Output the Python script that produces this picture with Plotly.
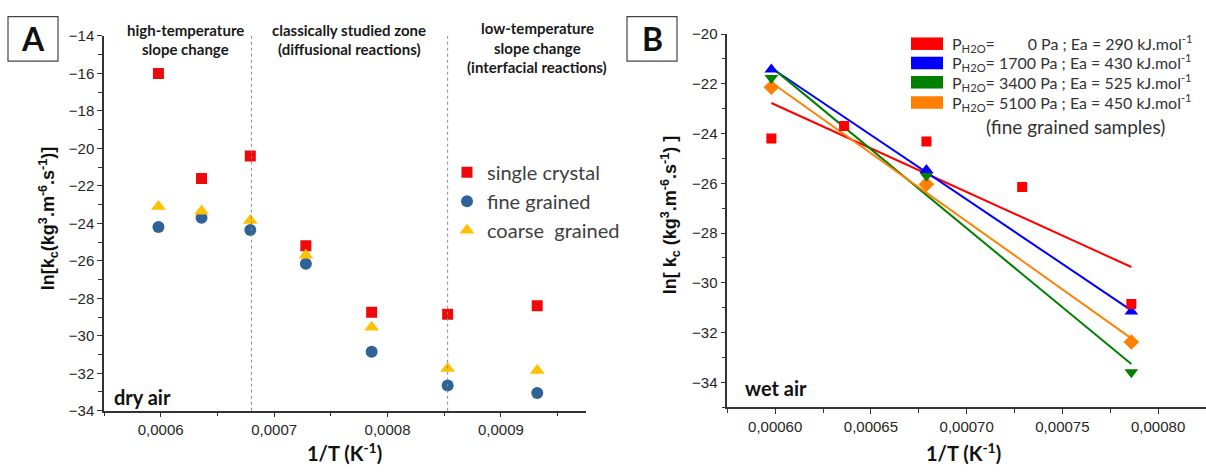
import numpy as np
import plotly.graph_objects as go

W, H = 1206, 473

# ---------------- Panel A : dry air ----------------
inv_T_dry = [0.000598, 0.000636, 0.000679, 0.000728, 0.000786, 0.000853, 0.000932]
ln_k_single = [-16.0, -21.6, -20.4, -25.2, -28.75, -28.85, -28.4]
ln_k_fine = [-24.2, -23.7, -24.35, -26.15, -30.85, -32.65, -33.05]
ln_k_coarse = [-23.1, -23.35, -23.85, -25.7, -29.55, -31.75, -31.85]
zone_limits = [0.00068, 0.000853]

# ---------------- Panel B : wet air (fine grained samples) ----------------
inv_T_wet_0 = [0.000598, 0.000636, 0.000679, 0.000729, 0.000786]
ln_k_0pa = [-24.2, -23.7, -24.32, -26.15, -30.85]
inv_T_wet = [0.000598, 0.000679, 0.000786]
ln_k_1700pa = [-21.42, -25.46, -31.15]
ln_k_3400pa = [-21.77, -25.7, -33.6]
ln_k_5100pa = [-22.14, -26.04, -32.38]
pressures = ["\u00a0\u00a0\u00a0\u00a0\u00a0\u00a0\u00a0\u00a00", " 1700", " 3400", " 5100"]
energies = ["290", "430", "525", "450"]

RED, BLUE_DOT, GOLD = "#ee0a0a", "#2f6296", "#ffc000"
WET_COLORS = ["#ff0000", "#0000ff", "#008000", "#ff8000"]
INK = "#262626"


def px(x):
    return x / W


def py(y):
    return 1 - y / H


fig = go.Figure()

# panel A markers
fig.add_trace(go.Scatter(x=inv_T_dry, y=ln_k_single, mode="markers", name="single crystal",
                         marker=dict(symbol="square", size=11, color=RED),
                         xaxis="x", yaxis="y", legend="legend"))
fig.add_trace(go.Scatter(x=inv_T_dry, y=ln_k_fine, mode="markers", name="fine grained",
                         marker=dict(symbol="circle", size=12, color=BLUE_DOT),
                         xaxis="x", yaxis="y", legend="legend"))
fig.add_trace(go.Scatter(x=inv_T_dry, y=ln_k_coarse, mode="markers", name="coarse  grained",
                         marker=dict(symbol="triangle-up", size=13, color=GOLD),
                         xaxis="x", yaxis="y", legend="legend"))

# panel B: linear Arrhenius fits then markers
wet_sets = [
    (inv_T_wet_0, ln_k_0pa, "square", 10),
    (inv_T_wet, ln_k_1700pa, "triangle-up", 12),
    (inv_T_wet, ln_k_3400pa, "triangle-down", 12),
    (inv_T_wet, ln_k_5100pa, "diamond", 12),
]
for (xs, ys, sym, sz), col in zip(wet_sets, WET_COLORS):
    slope, icpt = np.polyfit(xs, ys, 1)
    xf = np.array([min(xs), max(xs)])
    fig.add_trace(go.Scatter(x=xf, y=slope * xf + icpt, mode="lines",
                             line=dict(color=col, width=2), showlegend=False,
                             xaxis="x2", yaxis="y2"))
for (xs, ys, sym, sz), col in list(zip(wet_sets, WET_COLORS))[::-1]:
    fig.add_trace(go.Scatter(x=xs, y=ys, mode="markers",
                             marker=dict(symbol=sym, size=sz, color=col),
                             showlegend=False, xaxis="x2", yaxis="y2"))

axis_common = dict(showgrid=False, zeroline=False, showline=True, linecolor="#333333",
                   linewidth=1.5, ticks="outside", ticklen=5, tickwidth=1.3,
                   tickcolor="#333333",
                   tickfont=dict(family="Liberation Sans, Arial", size=15, color=INK))

fig.update_layout(
    width=W, height=H,
    margin=dict(l=0, r=0, t=0, b=0),
    paper_bgcolor="white", plot_bgcolor="white",
    separators=",.",
    xaxis=dict(domain=[px(104), px(586)], range=[0.00055, 0.000975], anchor="y",
               tick0=0.0006, dtick=0.0001, tickformat=".4f",
               minor=dict(ticks="outside", ticklen=4, dtick=0.00005, tick0=0.0006,
                          tickcolor="#333333", tickwidth=1.2),
               **axis_common),
    yaxis=dict(domain=[py(416.7), py(28)], range=[-34, -14], anchor="x",
               tick0=-34, dtick=2,
               minor=dict(ticks="outside", ticklen=4, dtick=1, tickcolor="#333333", tickwidth=1.2),
               **axis_common),
    xaxis2=dict(domain=[px(727.3), 1.0], range=[0.000575, 0.000825], anchor="y2",
                tick0=0.0006, dtick=0.00005, tickformat=".5f",
                minor=dict(ticks="outside", ticklen=4, dtick=0.000025, tick0=0.0006,
                           tickcolor="#333333", tickwidth=1.2),
                **axis_common),
    yaxis2=dict(domain=[py(413), py(26)], range=[-35, -20], anchor="x2",
                tick0=-34, dtick=2,
                minor=dict(ticks="outside", ticklen=4, dtick=1, tickcolor="#333333", tickwidth=1.2),
                **axis_common),
    legend=dict(x=px(447), y=py(149), xanchor="left", yanchor="top",
                bgcolor="rgba(0,0,0,0)", borderwidth=0,
                font=dict(family="Lato", size=20, color="#404040"),
                itemsizing="trace"),
)

shapes = []
# zone separators in panel A
for xv in zone_limits:
    shapes.append(dict(type="line", xref="x", yref="y domain", x0=xv, x1=xv, y0=0, y1=1,
                       line=dict(color="#8a8a8a", width=1, dash="dot")))
# panel letter boxes
for x0, x1 in [(8, 58), (627, 677)]:
    shapes.append(dict(type="rect", xref="paper", yref="paper",
                       x0=px(x0), x1=px(x1), y0=py(54), y1=py(8),
                       line=dict(color="#444444", width=1.2), fillcolor="white"))
# colour keys of the wet-air fits
key_rows = [36, 56, 76, 97]
for yc, col in zip(key_rows, WET_COLORS):
    shapes.append(dict(type="rect", xref="paper", yref="paper",
                       x0=px(911), x1=px(943), y0=py(yc + 6.5), y1=py(yc - 6.5),
                       line=dict(width=0), fillcolor=col))

ann = []


def text(x, y, s, size, family="Lato", bold=False, color=INK, xanchor="center", angle=0):
    ann.append(dict(xref="paper", yref="paper", x=px(x), y=py(y), text=f"<b>{s}</b>" if bold else s,
                    showarrow=False, xanchor=xanchor, yanchor="middle", textangle=angle,
                    font=dict(family=family, size=size, color=color)))


text(33, 31, "A", 32, bold=True, color="#111111")
text(652, 31, "B", 32, bold=True, color="#111111")

# zone captions
text(185, 22, "high-temperature", 15, bold=True, color="#1a1a1a")
text(185, 42, "slope change", 15, bold=True, color="#1a1a1a")
text(349, 22, "classically studied zone", 15, bold=True, color="#1a1a1a")
text(349, 42, "(diffusional reactions)", 15, bold=True, color="#1a1a1a")
text(537, 20, "low-temperature", 15, bold=True, color="#1a1a1a")
text(537, 40, "slope change", 15, bold=True, color="#1a1a1a")
text(537, 60, "(interfacial reactions)", 15, bold=True, color="#1a1a1a")

text(112, 402, "dry air", 20, bold=True, xanchor="left", color="#111111")
text(743, 393, "wet air", 20, bold=True, xanchor="left", color="#111111")

# axis titles
text(345, 460, "1/T (K<sup>-1</sup>)", 20, bold=True, color="#111111")
text(963, 460, "1/T (K<sup>-1</sup>)", 20, bold=True, color="#111111")
text(48, 218, "ln[k<sub>c</sub>(kg<sup>3</sup>.m<sup>-6</sup>.s<sup>-1</sup>)]", 18,
     family="Liberation Sans, Arial", bold=True, color="#111111", angle=-90)
text(670, 214, "ln[ k<sub>c</sub> (kg<sup>3</sup>.m<sup>-6</sup>.s<sup>-1</sup>) ]", 18,
     family="Liberation Sans, Arial", bold=True, color="#111111", angle=-90)

# wet-air key labels
for yc, p, e in zip(key_rows, pressures, energies):
    text(950, yc, f"P<sub>H2O</sub>={p} Pa ; Ea = {e} kJ.mol<sup>-1</sup>", 16,
         xanchor="left", color="#333333")
text(1075, 122, "(fine grained samples)", 19, color="#333333")

fig.update_layout(shapes=shapes, annotations=ann)
fig.write_html("out.html")
